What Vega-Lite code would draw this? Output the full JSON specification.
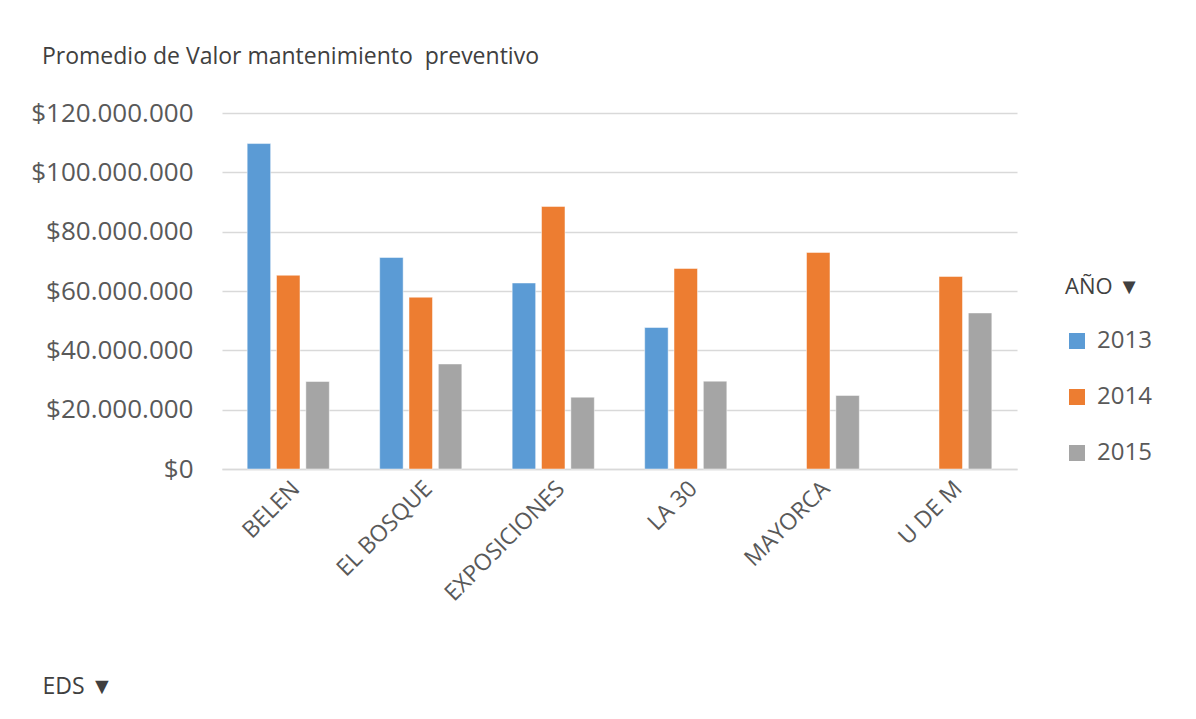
{
  "$schema": "https://vega.github.io/schema/vega-lite/v6.json",
  "autosize": {"type": "none"},
  "width": 795,
  "height": 356,
  "padding": {"left": 222, "top": 113, "right": 179, "bottom": 250},
  "background": "#ffffff",
  "title": {
    "text": "Promedio de Valor mantenimiento\u00a0 preventivo",
    "anchor": "start",
    "frame": "group",
    "dx": -180,
    "offset": 31,
    "font": "Open Sans",
    "fontSize": 23,
    "fontWeight": "normal",
    "color": "#404040"
  },
  "data": {
    "values": [
      {"EDS": "BELEN", "AÑO": "2013", "valor": 109700000},
      {"EDS": "BELEN", "AÑO": "2014", "valor": 65300000},
      {"EDS": "BELEN", "AÑO": "2015", "valor": 29500000},
      {"EDS": "EL BOSQUE", "AÑO": "2013", "valor": 71300000},
      {"EDS": "EL BOSQUE", "AÑO": "2014", "valor": 57900000},
      {"EDS": "EL BOSQUE", "AÑO": "2015", "valor": 35400000},
      {"EDS": "EXPOSICIONES", "AÑO": "2013", "valor": 62700000},
      {"EDS": "EXPOSICIONES", "AÑO": "2014", "valor": 88500000},
      {"EDS": "EXPOSICIONES", "AÑO": "2015", "valor": 24200000},
      {"EDS": "LA 30", "AÑO": "2013", "valor": 47700000},
      {"EDS": "LA 30", "AÑO": "2014", "valor": 67600000},
      {"EDS": "LA 30", "AÑO": "2015", "valor": 29600000},
      {"EDS": "MAYORCA", "AÑO": "2014", "valor": 73000000},
      {"EDS": "MAYORCA", "AÑO": "2015", "valor": 24800000},
      {"EDS": "U DE M", "AÑO": "2014", "valor": 64900000},
      {"EDS": "U DE M", "AÑO": "2015", "valor": 52600000}
    ]
  },
  "mark": {"type": "bar", "stroke": "#ffffff", "strokeWidth": 0.8, "strokeOpacity": 0.6},
  "encoding": {
    "x": {
      "field": "EDS",
      "type": "nominal",
      "sort": ["BELEN", "EL BOSQUE", "EXPOSICIONES", "LA 30", "MAYORCA", "U DE M"],
      "scale": {"paddingInner": 0.38, "paddingOuter": 0.19},
      "axis": {
        "title": "EDS  ▼",
        "titleX": -180,
        "titleY": 217,
        "titleAlign": "left",
        "titleBaseline": "middle",
        "titleAngle": 0,
        "titleFont": "Open Sans",
        "titleFontSize": 23,
        "titleFontWeight": "normal",
        "titleColor": "#404040",
        "labelAngle": -45,
        "labelFont": "Open Sans",
        "labelFontSize": 23,
        "labelColor": "#595959",
        "labelPadding": 8,
        "ticks": false,
        "domain": true,
        "domainColor": "#D9D9D9",
        "domainWidth": 1.5,
        "grid": false
      }
    },
    "xOffset": {
      "field": "AÑO",
      "type": "nominal",
      "scale": {"paddingInner": 0.2, "paddingOuter": 0}
    },
    "y": {
      "field": "valor",
      "type": "quantitative",
      "scale": {"domain": [0, 120000000]},
      "axis": {
        "title": null,
        "values": [0, 20000000, 40000000, 60000000, 80000000, 100000000, 120000000],
        "format": "$,.0f",
        "labelFont": "Open Sans",
        "labelFontSize": 26,
        "labelColor": "#595959",
        "labelPadding": 29,
        "ticks": false,
        "domain": false,
        "gridColor": "#D9D9D9",
        "gridWidth": 1.5
      }
    },
    "color": {
      "field": "AÑO",
      "type": "nominal",
      "scale": {"domain": ["2013", "2014", "2015"], "range": ["#5B9BD5", "#ED7D31", "#A5A5A5"]},
      "legend": {
        "title": "AÑO     ▼",
        "orient": "none",
        "legendX": 843,
        "legendY": 164,
        "padding": 0,
        "titleFont": "Open Sans",
        "titleFontSize": 22,
        "titleFontWeight": "normal",
        "titleColor": "#404040",
        "titlePadding": 30,
        "labelFont": "Open Sans",
        "labelFontSize": 24,
        "labelColor": "#595959",
        "labelOffset": 8,
        "symbolType": "square",
        "symbolSize": 256,
        "symbolStrokeWidth": 0,
        "rowPadding": 32
      }
    }
  },
  "config": {
    "locale": {
      "number": {"decimal": ",", "thousands": ".", "grouping": [3], "currency": ["$", ""]}
    },
    "view": {"stroke": null}
  }
}
